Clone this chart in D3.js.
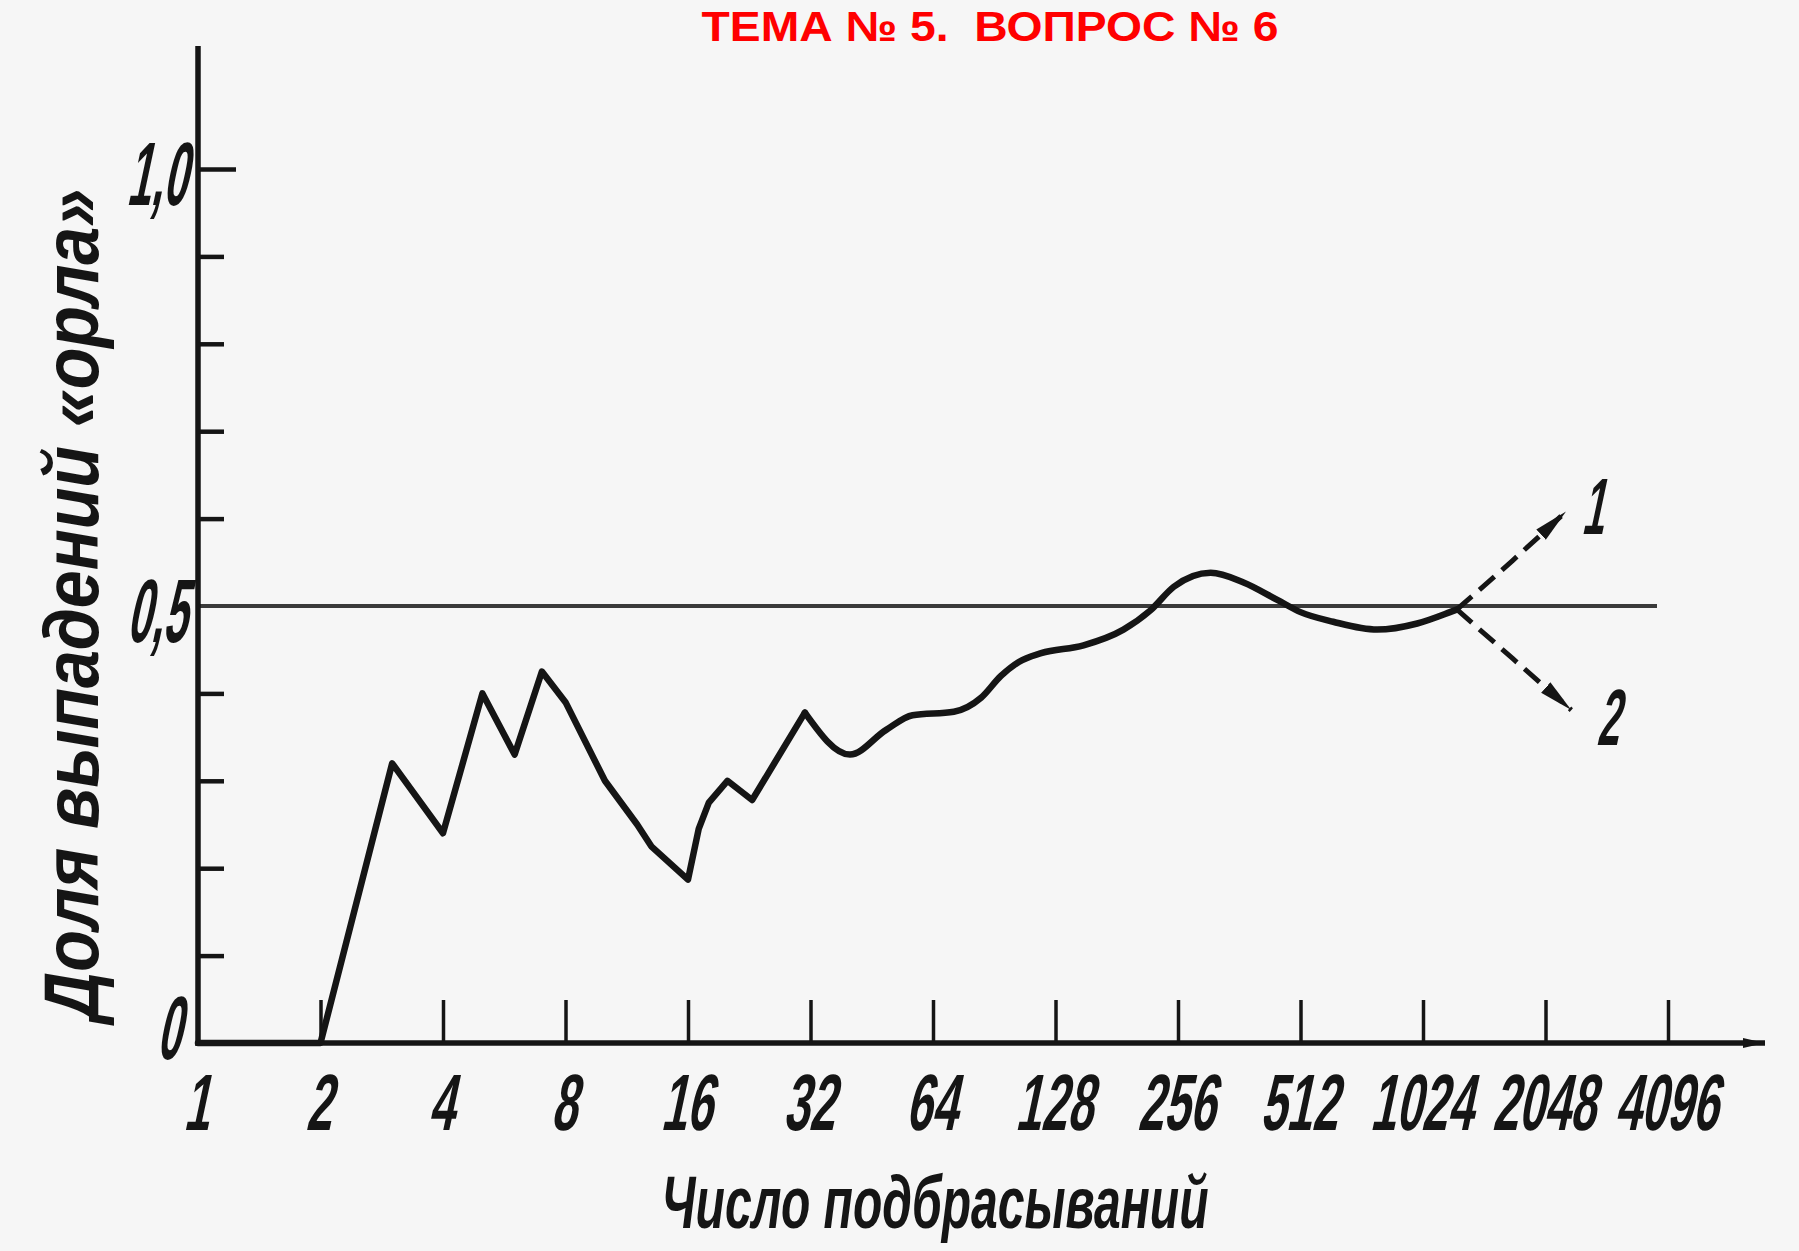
<!DOCTYPE html>
<html>
<head>
<meta charset="utf-8">
<script src="https://cdn.jsdelivr.net/npm/d3@7"></script>
<style>
  html, body { margin: 0; padding: 0; background: #f6f6f6; }
  svg { display: block; }
</style>
</head>
<body>
<script>
// ---------- data ----------
const titleText = "ТЕМА № 5.  ВОПРОС № 6";
const xAxisTitle = "Число подбрасываний";
const yAxisTitle = "Доля выпадений «орла»";

const xTickValues = [1, 2, 4, 8, 16, 32, 64, 128, 256, 512, 1024, 2048, 4096];
const xTickLabels = ["1", "2", "4", "8", "16", "32", "64", "128", "256", "512", "1024", "2048", "4096"];
const yMinorTicks = [0.1, 0.2, 0.3, 0.4, 0.6, 0.7, 0.8, 0.9];
const yMajorTicks = [0, 0.5, 1.0];
const yTickLabels = ["0", "0,5", "1,0"];
const referenceLevel = 0.5;

// number of tosses and observed share of heads (main solid curve)
const tosses = [1, 2, 3, 4, 5, 6, 7, 8, 10, 12, 13, 16, 17, 18, 20, 23, 31, 40, 49, 57, 72, 84, 94, 104, 118, 150, 188, 219, 250, 308, 371, 449, 512, 616, 790, 991, 1193, 1240];
const shareHeads = [0, 0, 0.32, 0.24, 0.40, 0.33, 0.425, 0.39, 0.30, 0.25, 0.225, 0.187, 0.245, 0.275, 0.30, 0.278, 0.378, 0.33, 0.358, 0.375, 0.379, 0.395, 0.42, 0.436, 0.446, 0.455, 0.473, 0.495, 0.522, 0.538, 0.527, 0.507, 0.493, 0.482, 0.473, 0.48, 0.493, 0.496];
const sharpUntilTosses = 31;   // early part drawn as a broken line, later part smoothed

// dashed continuations (1 - upward, 2 - downward)
const branch1Tosses = [1240, 1700, 2300];
const branch1Share = [0.496, 0.552, 0.608];
const branch2Tosses = [1240, 1700, 2370];
const branch2Share = [0.496, 0.44, 0.381];
const branchLabels = ["1", "2"];

// ---------- drawing ----------
const W = 1799, H = 1251;
const svg = d3.select("body").append("svg").attr("width", W).attr("height", H);
svg.append("rect").attr("width", W).attr("height", H).attr("fill", "#f6f6f6");

const x = d3.scaleLog().base(2).domain([1, 4096]).range([198, 1668]);
const y = d3.scaleLinear().domain([0, 1]).range([1043, 169]);

const ink = "#151515";
const defs = svg.append("defs");
defs.append("marker").attr("id", "arrowDash")
  .attr("markerUnits", "userSpaceOnUse").attr("markerWidth", 40).attr("markerHeight", 18)
  .attr("viewBox", "0 -9 40 18").attr("refX", 34).attr("refY", 0).attr("orient", "auto")
  .append("path").attr("d", "M0,-7 L34,0 L0,7 Z").attr("fill", ink);
defs.append("marker").attr("id", "arrowAxis")
  .attr("markerUnits", "userSpaceOnUse").attr("markerWidth", 26).attr("markerHeight", 14)
  .attr("viewBox", "0 -7 26 14").attr("refX", 22).attr("refY", 0).attr("orient", "auto")
  .append("path").attr("d", "M0,-5 L22,0 L0,5 Z").attr("fill", ink);

// title
svg.append("text")
  .attr("x", 990).attr("y", 41)
  .attr("text-anchor", "middle")
  .attr("textLength", 577).attr("lengthAdjust", "spacingAndGlyphs")
  .style("white-space", "pre")
  .attr("font-family", "'Liberation Sans', Arial, sans-serif")
  .attr("font-weight", "bold").attr("font-size", 42)
  .attr("fill", "#ff0000")
  .text(titleText);

// reference line at 0.5
svg.append("line")
  .attr("x1", x(1)).attr("x2", 1657)
  .attr("y1", y(referenceLevel)).attr("y2", y(referenceLevel))
  .attr("stroke", "#3a3a3a").attr("stroke-width", 4);

// y axis line
svg.append("line")
  .attr("x1", x(1)).attr("x2", x(1)).attr("y1", 46).attr("y2", y(0) + 3)
  .attr("stroke", ink).attr("stroke-width", 5.5);

// x axis line
svg.append("line")
  .attr("x1", x(1)).attr("x2", 1765).attr("y1", y(0)).attr("y2", y(0))
  .attr("stroke", ink).attr("stroke-width", 5.5)
  .attr("marker-end", "url(#arrowAxis)");

// y minor ticks
const yMinor = svg.append("g").attr("transform", `translate(${x(1)},0)`)
  .call(d3.axisRight(y).tickValues(yMinorTicks).tickSize(26).tickSizeOuter(0).tickFormat(""));
yMinor.select(".domain").remove();
yMinor.selectAll(".tick line").attr("stroke", ink).attr("stroke-width", 4.5);

// y major tick at 1.0
const yMajor = svg.append("g").attr("transform", `translate(${x(1)},0)`)
  .call(d3.axisRight(y).tickValues([1.0]).tickSize(38).tickSizeOuter(0).tickFormat(""));
yMajor.select(".domain").remove();
yMajor.selectAll(".tick line").attr("stroke", ink).attr("stroke-width", 4.5);

// x ticks (upward)
const xAx = svg.append("g").attr("transform", `translate(0,${y(0)})`)
  .call(d3.axisTop(x).tickValues(xTickValues.slice(1)).tickSize(43).tickSizeOuter(0).tickFormat(""));
xAx.select(".domain").remove();
xAx.selectAll(".tick line").attr("stroke", ink).attr("stroke-width", 3.5);

const labelFont = "'Liberation Sans', Arial, sans-serif";

// x tick labels
svg.append("g").selectAll("text").data(xTickValues).join("text")
  .attr("transform", d => `translate(${x(d) - 2},1130) skewX(-12) scale(0.58,1)`)
  .attr("text-anchor", "middle")
  .attr("font-family", labelFont).attr("font-weight", "bold")
  .attr("font-size", 80).attr("fill", ink)
  .text((d, i) => xTickLabels[i]);

// y tick labels
svg.append("g").selectAll("text").data(yMajorTicks).join("text")
  .attr("transform", d => `translate(${d === 0 ? 180 : 186},${y(d) + (d === 0 ? 16 : 36)}) skewX(-12) scale(0.48,1)`)
  .attr("text-anchor", "end")
  .attr("font-family", labelFont).attr("font-weight", "bold")
  .attr("font-size", 90).attr("fill", ink)
  .text((d, i) => yTickLabels[i]);

// main curve: broken line for early tosses, smoothed afterwards
const pts = tosses.map((n, i) => [x(n), y(shareHeads[i])]);
const k = tosses.indexOf(sharpUntilTosses);
const curveStyle = p => p.attr("fill", "none").attr("stroke", ink).attr("stroke-width", 6.5)
  .attr("stroke-linejoin", "round").attr("stroke-linecap", "round");
svg.append("path").attr("d", d3.line()(pts.slice(0, k + 1))).call(curveStyle);
svg.append("path").attr("d", d3.line().curve(d3.curveMonotoneX)(pts.slice(k))).call(curveStyle);

// dashed branches
[[branch1Tosses, branch1Share], [branch2Tosses, branch2Share]].forEach(([ns, ps]) => {
  const bp = ns.map((n, i) => [x(n), y(ps[i])]);
  svg.append("path").attr("d", d3.line().curve(d3.curveMonotoneX)(bp))
    .attr("fill", "none").attr("stroke", ink).attr("stroke-width", 5)
    .attr("stroke-dasharray", "20,10")
    .attr("marker-end", "url(#arrowDash)");
});

// branch labels
const branchEnds = [[branch1Tosses[2], branch1Share[2]], [branch2Tosses[2], branch2Share[2]]];
svg.append("g").selectAll("text").data(branchEnds).join("text")
  .attr("transform", (d, i) => `translate(${x(d[0]) + (i === 0 ? 26 : 36)},${y(d[1]) + (i === 0 ? 22 : 35)}) skewX(-12) scale(0.5,1)`)
  .attr("text-anchor", "middle")
  .attr("font-family", labelFont).attr("font-weight", "bold")
  .attr("font-size", 80).attr("fill", ink)
  .text((d, i) => branchLabels[i]);

// axis titles
svg.append("text")
  .attr("x", 935).attr("y", 1228)
  .attr("text-anchor", "middle")
  .attr("textLength", 547).attr("lengthAdjust", "spacingAndGlyphs")
  .attr("font-family", labelFont).attr("font-style", "italic").attr("font-weight", "bold")
  .attr("font-size", 74).attr("fill", ink)
  .text(xAxisTitle);

svg.append("text")
  .attr("transform", "translate(98,605) rotate(-90)")
  .attr("text-anchor", "middle")
  .attr("textLength", 832).attr("lengthAdjust", "spacingAndGlyphs")
  .attr("font-family", labelFont).attr("font-style", "italic").attr("font-weight", "bold")
  .attr("font-size", 78).attr("fill", ink)
  .text(yAxisTitle);
</script>
</body>
</html>
